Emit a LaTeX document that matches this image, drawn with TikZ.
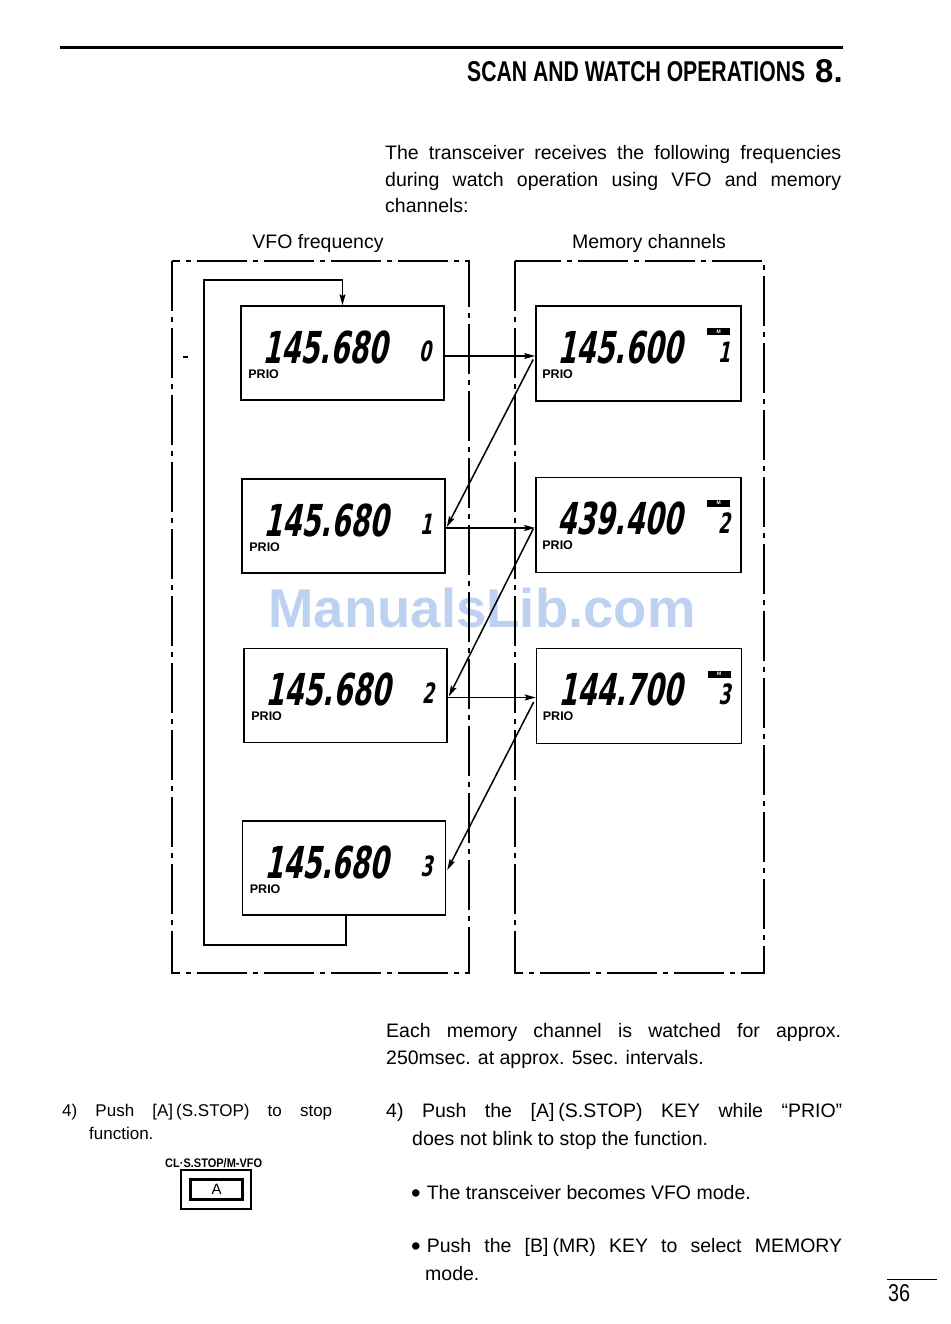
\documentclass[tikz,border=0pt]{standalone}
\usepackage{graphicx}
\usepackage{fontspec}
\setmainfont{Liberation Sans}
\newfontfamily\lcdfont[FakeSlant=0.2,FakeStretch=0.62]{DejaVu Sans Bold}
\usetikzlibrary{arrows.meta,calc}
\definecolor{wmblue}{RGB}{188,210,240}
\tikzset{
  lcd/.style={draw, line width=1.6pt, minimum width=203, minimum height=94, inner sep=0},
  lcdm/.style={lcd, minimum width=205, minimum height=95},
  lcdbig/.style={inner sep=0, font=\lcdfont\fontsize{44}{44}\selectfont},
  lcdchan/.style={inner sep=0, font=\lcdfont\fontsize{28}{28}\selectfont},
  lcdprio/.style={inner sep=0, font=\bfseries\fontsize{12.5}{13}\selectfont},
  badge/.style={fill=black, text=white, minimum width=23, minimum height=7, inner sep=0, font=\bfseries\fontsize{5}{5}\selectfont},
  conn/.style={line width=1.5pt, -{Stealth[length=11pt,width=6pt,inset=2pt]}},
  loopline/.style={line width=1.5pt},
  dashbox/.style={line width=1.8pt, dash pattern=on 50pt off 6pt on 5pt off 6pt},
  body/.style={anchor=base west, inner sep=0, font=\fontsize{19.5}{23}\selectfont},
  small/.style={anchor=base west, inner sep=0, font=\fontsize{17}{20}\selectfont},
}
\newcommand\bul{\raisebox{-3pt}{\scalebox{1.4}{•}}\kern6pt}
\newcommand\lcdV[5]{%
  \node[lcd] (#1) at (#2,#3) {};
  \node[lcdbig, anchor=base east] (#1f) at ($(#1.north west)+(147,58)$) {#4};
  \node[lcdchan, anchor=base east] (#1c) at ($(#1.north west)+(191,56)$) {#5};
  \node[lcdprio, anchor=base west] (#1p) at ($(#1.north west)+(8,73)$) {PRIO};
}
\newcommand\lcdM[5]{%
  \node[lcdm] (#1) at (#2,#3) {};
  \node[lcdbig, anchor=base east] (#1f) at ($(#1.north west)+(147,58)$) {#4};
  \node[badge] (#1b) at ($(#1.north west)+(183.5,26.5)$) {M};
  \node[lcdchan, anchor=base east] (#1c) at ($(#1.north west)+(195,57)$) {#5};
  \node[lcdprio, anchor=base west] (#1p) at ($(#1.north west)+(7,73)$) {PRIO};
}
\begin{document}
\begin{tikzpicture}[x=1pt, y=-1pt]
\useasboundingbox (0,0) rectangle (950,1324);
\fill[white] (0,0) rectangle (950,1324);

% watermark
\node[inner sep=0, text=wmblue] (wm) at (482,608) {\resizebox{427pt}{!}{\bfseries ManualsLib.com}};

% header
\draw[line width=3pt] (60,48) -- (843,48);
\node[anchor=base west, inner sep=0] (title) at (467,82) {\resizebox{338pt}{20pt}{\bfseries SCAN AND WATCH OPERATIONS}};
\node[anchor=base west, inner sep=0] (chap) at (815,83) {\resizebox{!}{23pt}{\textbf{8.}}};

% intro paragraph
\node[body] (p1) at (385,160) {\makebox[456pt][s]{The transceiver receives the following frequencies}};
\node[body] (p2) at (385,187) {\makebox[456pt][s]{during watch operation using VFO and memory}};
\node[body] (p3) at (385,213) {channels:};

% column labels
\node[body, anchor=base] (lv) at (318,248) {VFO frequency};
\node[body, anchor=base] (lm) at (649,248) {Memory channels};

% outer dashed frames
\draw[dashbox] (172,261) rectangle (469,973);
\draw[dashbox] (515,261) rectangle (764,973);
\draw[line width=2pt] (183,357) -- (188,357);

% displays
\lcdV{v0}{342.5}{353}{145.680}{0}
\lcdV{v1}{343.5}{526}{145.680}{1}
\lcdV{v2}{345.5}{695.5}{145.680}{2}
\lcdV{v3}{344}{868}{145.680}{3}
\lcdM{m1}{638.5}{353.5}{145.600}{1}
\lcdM{m2}{638.5}{525}{439.400}{2}
\lcdM{m3}{639}{696}{144.700}{3}

% loop
\coordinate (lb) at (204,945);
\coordinate (lt) at (204,280);
\draw[loopline] ($(v3.south)+(2,0)$) -- ($(v3.south |- lb)+(2,0)$) -- (lb) -- (lt) -- (lt -| v0.north) ;
\draw[conn] (lt -| v0.north) -- (v0.north);

% horizontal arrows
\draw[conn] ($(v0.east)+(0,3)$) -- ($(v0.east -| m1.west)+(0,3)$);
\draw[conn] ($(v1.east)+(0,2)$) -- ($(v1.east -| m2.west)+(0,2)$);
\draw[conn] ($(v2.east)+(0,2)$) -- ($(v2.east -| m3.west)+(0,2)$);

% diagonal arrows
\draw[conn] ($(m1.west)+(-2,6)$) -- ($(v1.east)+(1,1)$);
\draw[conn] ($(m2.west)+(-2,4)$) -- ($(v2.east)+(1,1)$);
\draw[conn] ($(m3.west)+(-2,6)$) -- ($(v3.east)+(1,2)$);

% lower right text
\node[body] (q1) at (386,1037) {\makebox[455pt][s]{Each memory channel is watched for approx.}};
\node[body] (q2) at (386,1064) {250msec. at approx. 5sec. intervals.};
\node[body] (q3) at (386,1117) {\makebox[456pt][s]{4) Push the [A]\kern4pt(S.STOP) KEY while “PRIO”}};
\node[body] (q4) at (412,1145) {does not blink to stop the function.};
\node[body] (q5) at (411,1199) {\bul The transceiver becomes VFO mode.};
\node[body] (q6) at (411,1252) {\makebox[431pt][s]{\bul Push the [B]\kern4pt(MR) KEY to select MEMORY}};
\node[body] (q7) at (425,1280) {mode.};

% lower left text
\node[small] (s1) at (62,1116) {\makebox[270pt][s]{4) Push [A]\kern3pt(S.STOP) to stop}};
\node[small] (s2) at (89,1139) {function.};
\node[anchor=base west, inner sep=0] (kl) at (165,1167) {\resizebox{97pt}{9pt}{\bfseries CL·S.STOP/M-VFO}};
\node[draw, line width=1.8pt, minimum width=70, minimum height=39, inner sep=0] (keyo) at (216,1189.5) {};
\node[draw, line width=3pt, minimum width=52, minimum height=20, inner sep=0, font=\fontsize{15}{15}\selectfont] (keyi) at (216.5,1189.5) {A};

% page number
\draw[line width=1pt] (887,1279) -- (937,1279);
\node[anchor=base west, inner sep=0] (pg) at (888,1301) {\resizebox{22pt}{17pt}{36}};
\end{tikzpicture}
\end{document}
